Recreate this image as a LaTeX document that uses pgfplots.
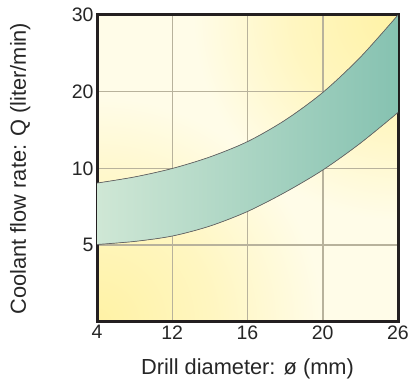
\documentclass[border=0pt]{standalone}
\usepackage{pgfplots}
\pgfplotsset{compat=1.18}
\usepgfplotslibrary{fillbetween}
\usepackage{fontspec}
\setmainfont{Liberation Sans}
\definecolor{bandL}{RGB}{207,231,213}
\definecolor{bandR}{RGB}{134,194,177}
\definecolor{bgY}{RGB}{255,242,165}
\definecolor{bgW}{RGB}{255,252,232}
\definecolor{gridc}{RGB}{184,178,156}
\definecolor{framec}{RGB}{35,31,32}
\pgfdeclareradialshading{glow}{\pgfpoint{0bp}{0bp}}{color(0bp)=(bgY); color(13bp)=(bgY!58!bgW); color(25bp)=(bgW); color(50bp)=(bgW)}
\begin{document}
\begin{tikzpicture}
\begin{axis}[
 set layers,
 scale only axis, width=301pt, height=307pt,
 xmin=0,xmax=4,ymin=0,ymax=4,
 xtick={0,1,2,3,4}, xticklabels={4,12,16,20,26},
 ytick={1,2,3,4}, yticklabels={5,10,20,30},
 grid=major, major grid style={gridc, line width=1.5pt},
 axis line style={line width=3pt, framec},
 tick style={draw=none},
 ticklabel style={font=\fontsize{19.5}{19.5}\selectfont, text=black!85},
 xlabel={Drill diameter: ø (mm)}, ylabel={Coolant flow rate: Q (liter/min)},
 label style={font=\fontsize{21.8}{21.8}\selectfont, text=black!85},
 xlabel style={at={(axis description cs:0.5,-0.1694)}, anchor=base},
 ylabel style={at={(axis description cs:-0.2359,0.5)}, anchor=base},
]
\begin{pgfonlayer}{axis background}
\begin{scope}
\clip (rel axis cs:0,0) rectangle (rel axis cs:1,1);
\fill[bgW] (rel axis cs:0,0) rectangle (rel axis cs:1,1);
\shade[shading=glow] (rel axis cs:0,0) circle[radius=225pt];
\shade[shading=glow] (rel axis cs:1,1) circle[radius=205pt];
\end{scope}
\end{pgfonlayer}
\addplot[name path=U, smooth, draw=black!60, line width=0.7pt] coordinates {(0,1.81)(0.5,1.89)(1,2.0)(1.5,2.15)(2,2.35)(2.5,2.63)(3,2.99)(3.5,3.45)(4,4.0)};
\addplot[name path=L, smooth, draw=black!60, line width=0.7pt] coordinates {(0,1.01)(0.5,1.05)(1,1.12)(1.5,1.25)(2,1.44)(2.5,1.69)(3,1.98)(3.5,2.33)(4,2.73)};
\addplot[left color=bandL, right color=bandR, draw=none] fill between[of=U and L];
\end{axis}
\useasboundingbox ([shift={(-97pt,-58pt)}]current axis.south west) rectangle ([shift={(16pt,15pt)}]current axis.north east);
\end{tikzpicture}
\end{document}
